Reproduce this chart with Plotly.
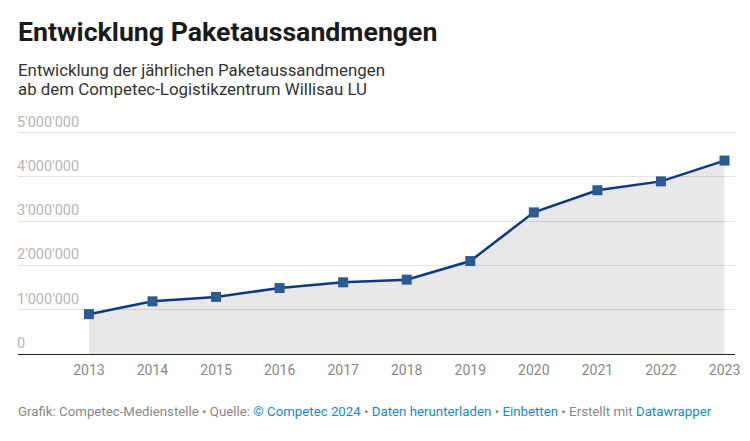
import plotly.graph_objects as go

years = [2013, 2014, 2015, 2016, 2017, 2018, 2019, 2020, 2021, 2022, 2023]
pakete = [900000, 1190000, 1290000, 1490000, 1620000, 1680000, 2100000, 3200000, 3700000, 3900000, 4370000]

y_ticks = [0, 1000000, 2000000, 3000000, 4000000, 5000000]
y_labels = ["0", "1'000'000", "2'000'000", "3'000'000", "4'000'000", "5'000'000"]

title = "Entwicklung Paketaussandmengen"
subtitle_1 = "Entwicklung der jährlichen Paketaussandmengen"
subtitle_2 = "ab dem Competec-Logistikzentrum Willisau LU"
link = "<span style='color:#1a8ac4'>%s</span>"
footer = ("Grafik: Competec-Medienstelle • Quelle: " + link % "© Competec 2024" + " • "
          + link % "Daten herunterladen" + " • " + link % "Einbetten"
          + " • Erstellt mit " + link % "Datawrapper")

fig = go.Figure()

# grey area under the line
fig.add_trace(go.Scatter(x=years, y=pakete, mode="none", fill="tozeroy",
                         fillcolor="rgba(0,0,0,0.09)", hoverinfo="skip"))
fig.add_trace(go.Scatter(x=years, y=pakete, mode="lines+markers",
                         line=dict(color="#0f3a7c", width=2.5),
                         marker=dict(symbol="square", size=10, color="#2b5a94"),
                         cliponaxis=False))

# the page sits 8px in from the window edge
fig.update_layout(
    width=736, height=425,
    margin=dict(l=9.5, r=9, t=107.3, b=79, autoexpand=False),
    paper_bgcolor="white", plot_bgcolor="white",
    showlegend=False,
    font=dict(family="Roboto", color="#333333"),
)
fig.update_xaxes(range=[2011.884, 2023.165], tickmode="array", tickvals=years,
                 showgrid=False, zeroline=False, showline=True, linecolor="#222222", linewidth=1,
                 ticks="", ticklabelstandoff=3, ticklabeloverflow="allow",
                 tickfont=dict(size=14, color="#888888"))
# range goes past 5M so the top label, which sits above its gridline, still shows
fig.update_yaxes(range=[0, 5400000], tickmode="array", tickvals=y_ticks, ticktext=y_labels,
                 ticklabelposition="inside top", ticklabelstandoff=-4, ticklabelshift=-1,
                 ticklabeloverflow="allow",
                 showgrid=True, gridcolor="#e3e3e3", gridwidth=1,
                 zeroline=False, ticks="", tickfont=dict(size=14.5, color="#b5b5b5"))


def add_text(text, y, size, color):
    fig.add_annotation(text=text, xref="paper", yref="paper", x=0, y=y, xshift=-2, align="left",
                       showarrow=False, xanchor="left", yanchor="middle",
                       font=dict(size=size, color=color))


add_text("<b>%s</b>" % title, 1.349, 26.7, "#1a1a1a")
add_text(subtitle_1, 1.19, 16.85, "#333333")
add_text(subtitle_2, 1.107, 16.85, "#333333")
add_text(footer, -0.239, 13.27, "#888888")

fig.write_html("out.html")
